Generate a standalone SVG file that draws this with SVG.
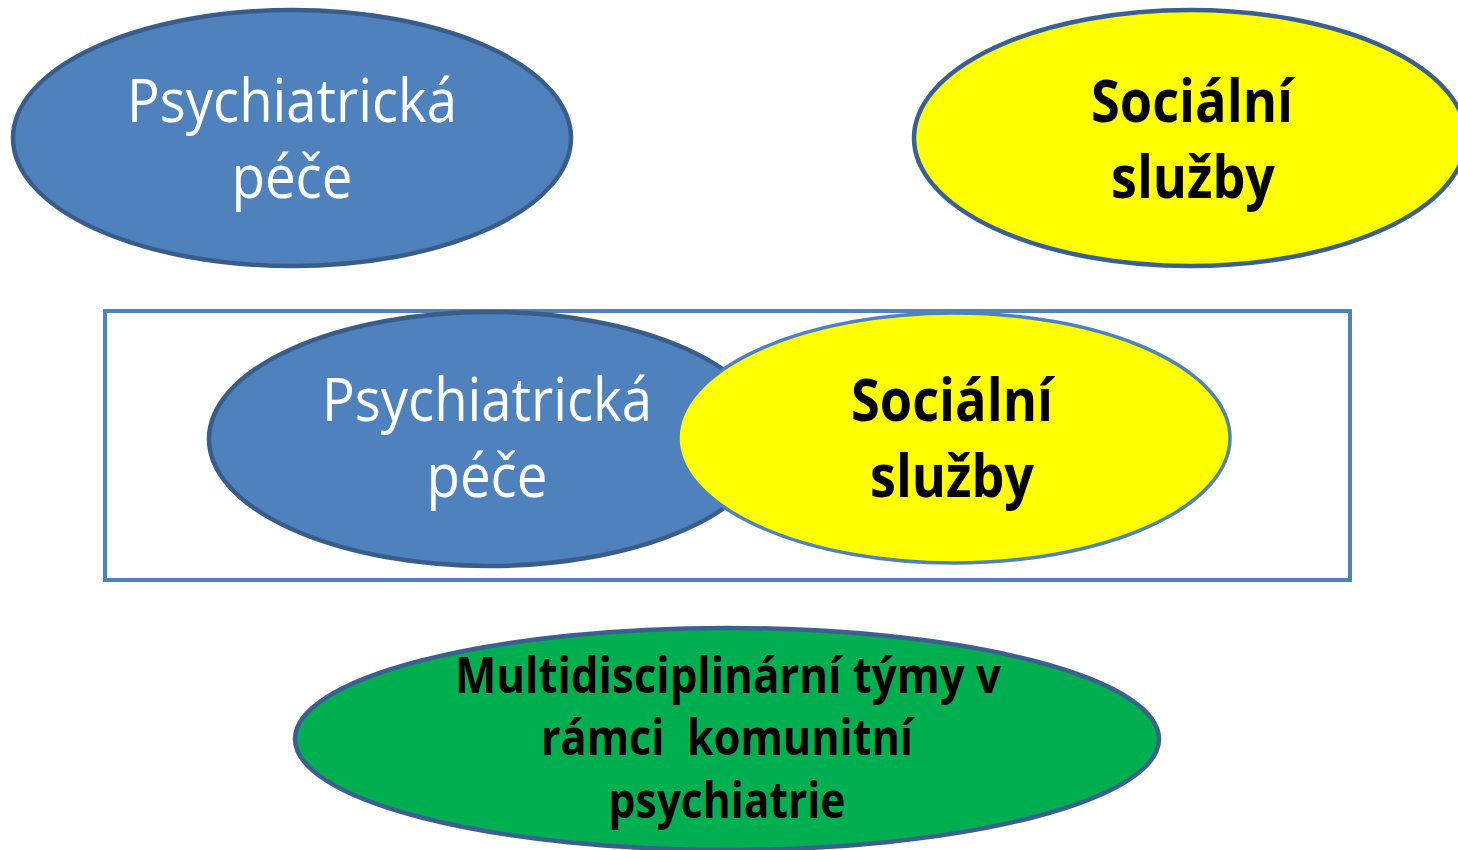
<svg xmlns="http://www.w3.org/2000/svg" width="1458" height="850" viewBox="0 0 1458 850">
<style>
.blue{fill:#4F81BD;stroke:#385D8A;stroke-width:4.5}
.yel{fill:#FFFF00;stroke:#3B6090;stroke-width:4.5}
.yel2{fill:#FFFF00;stroke:#4F81BD;stroke-width:3.5}
.grn{fill:#00B050;stroke:#3B6090;stroke-width:4.5}
.tw{font-family:"Open Sans","Liberation Sans",sans-serif;font-size:60px;fill:#FFFFFF;text-anchor:middle}
.tb{font-family:"Open Sans","Liberation Sans",sans-serif;font-weight:bold;font-size:59px;fill:#000000;text-anchor:middle}
.tg{font-family:"Open Sans","Liberation Sans",sans-serif;font-weight:bold;font-size:50px;fill:#000000;text-anchor:middle}
</style>
<rect width="1458" height="850" fill="#FFFFFF"/>
<g id="psych-top">
<ellipse class="blue" cx="292" cy="138" rx="279" ry="128"/>
<text class="tw" x="292" y="122" textLength="330" lengthAdjust="spacingAndGlyphs">Psychiatrická</text>
<text class="tw" x="292" y="198" textLength="121" lengthAdjust="spacingAndGlyphs">péče</text>
</g>
<g id="social-top">
<ellipse class="yel" cx="1190" cy="138" rx="276" ry="128"/>
<text class="tb" x="1192" y="122" textLength="202" lengthAdjust="spacingAndGlyphs">Sociální</text>
<text class="tb" x="1193" y="198" textLength="164" lengthAdjust="spacingAndGlyphs">služby</text>
</g>
<g id="combined">
<rect x="105" y="311" width="1245" height="269" fill="#FFFFFF" stroke="#4F81BD" stroke-width="4"/>
<g id="psych-mid">
<ellipse class="blue" cx="489" cy="439" rx="280" ry="127"/>
<text class="tw" x="487" y="421" textLength="330" lengthAdjust="spacingAndGlyphs">Psychiatrická</text>
<text class="tw" x="487" y="497" textLength="121" lengthAdjust="spacingAndGlyphs">péče</text>
</g>
<g id="social-mid">
<ellipse class="yel2" cx="954" cy="438" rx="276" ry="125"/>
<text class="tb" x="952" y="421" textLength="202" lengthAdjust="spacingAndGlyphs">Sociální</text>
<text class="tb" x="952" y="497" textLength="164" lengthAdjust="spacingAndGlyphs">služby</text>
</g>
</g>
<g id="teams">
<ellipse class="grn" cx="727" cy="739" rx="432" ry="111"/>
<text class="tg" x="728" y="693" textLength="546" lengthAdjust="spacingAndGlyphs">Multidisciplinární týmy v</text>
<text class="tg" x="727" y="755" textLength="372" lengthAdjust="spacingAndGlyphs" xml:space="preserve">rámci  komunitní</text>
<text class="tg" x="727" y="818" textLength="237" lengthAdjust="spacingAndGlyphs">psychiatrie</text>
</g>
<g id="connectors"/>
</svg>
